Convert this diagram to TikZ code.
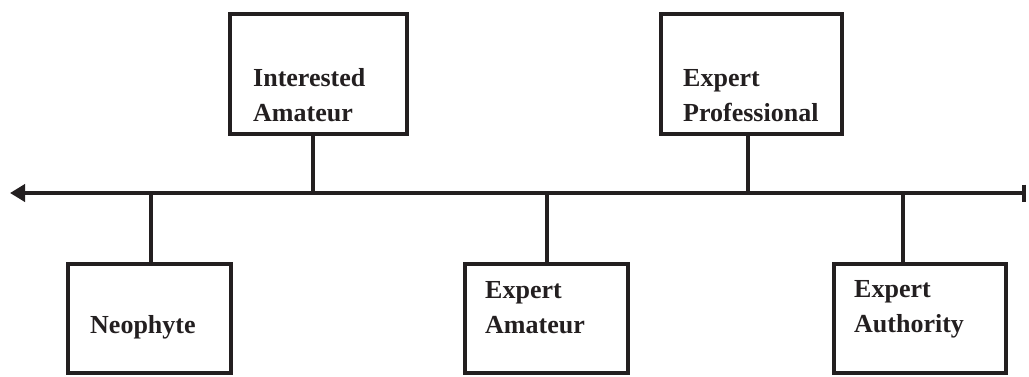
\documentclass[tikz,border=0pt]{standalone}
\usepackage{fontspec}
\setmainfont{Liberation Serif}
\usetikzlibrary{arrows.meta}
\definecolor{ink}{HTML}{231F20}
\tikzset{
  stage/.style={draw=ink, line width=4pt, inner sep=0pt},
  stagetext/.style={anchor=base west, align=left, inner sep=0pt, text=ink,
    font=\fontsize{26pt}{35pt}\selectfont\bfseries},
  stem/.style={draw=ink, line width=4pt},
  timeline/.style={draw=ink, line width=4pt,
    {Triangle[length=15pt,width=17pt]}-{Bar[width=17pt]}}
}
\begin{document}
\begin{tikzpicture}
\useasboundingbox (0pt,0pt) rectangle (1029pt,-376pt);
% the boxes above and below the line
\node[stage, minimum width=177pt, minimum height=120pt] (interested) at (318.5pt,-74pt) {};
\node[stage, minimum width=181pt, minimum height=120pt] (professional) at (751.5pt,-74pt) {};
\node[stage, minimum width=163pt, minimum height=109pt] (neophyte) at (149.5pt,-318pt) {};
\node[stage, minimum width=163pt, minimum height=109pt] (amateur) at (546.5pt,-318.5pt) {};
\node[stage, minimum width=172pt, minimum height=109pt] (authority) at (920pt,-318.5pt) {};
% texts (base = last line)
\node[stagetext] (interestedtext) at (253pt,-121pt) {Interested\\Amateur};
\node[stagetext] (professionaltext) at (683pt,-121pt) {Expert\\Professional};
\node[stagetext] (neophytetext) at (90pt,-333pt) {Neophyte};
\node[stagetext] (amateurtext) at (485pt,-333pt) {Expert\\Amateur};
\node[stagetext] (authoritytext) at (854pt,-332pt) {Expert\\Authority};
% the line
\coordinate (left) at (10pt,-193pt);
\coordinate (right) at (1026pt,-193pt);
\draw[timeline] (left) -- (right);
\coordinate (s1) at (151pt,-193pt);
\coordinate (s2) at (313pt,-193pt);
\coordinate (s3) at (547pt,-193pt);
\coordinate (s4) at (748pt,-193pt);
\coordinate (s5) at (903pt,-193pt);
\draw[stem] (s1) -- (s1 |- neophyte.north);
\draw[stem] (s2) -- (s2 |- interested.south);
\draw[stem] (s3) -- (s3 |- amateur.north);
\draw[stem] (s4) -- (s4 |- professional.south);
\draw[stem] (s5) -- (s5 |- authority.north);
\end{tikzpicture}
\end{document}
